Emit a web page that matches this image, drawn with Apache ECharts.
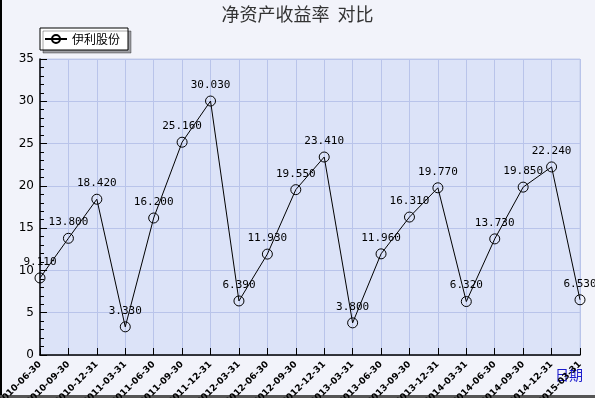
<!DOCTYPE html>
<html><head><meta charset="utf-8">
<script src="https://cdn.jsdelivr.net/npm/echarts@6/dist/echarts.min.js"></script>
<style>html,body{margin:0;padding:0;background:#f2f3fa}#c{width:595px;height:398px}</style>
</head><body><div id="c"></div>
<script>
var categories = ['2010-06-30','2010-09-30','2010-12-31','2011-03-31','2011-06-30','2011-09-30','2011-12-31','2012-03-31','2012-06-30','2012-09-30','2012-12-31','2013-03-31','2013-06-30','2013-09-30','2013-12-31','2014-03-31','2014-06-30','2014-09-30','2014-12-31','2015-03-31'];
var roe = [9.110,13.800,18.420,3.330,16.200,25.160,30.030,6.390,11.930,19.550,23.410,3.800,11.960,16.310,19.770,6.320,13.730,19.850,22.240,6.530];
var yTicks = [0,5,10,15,20,25,30,35];
var seriesName = '伊利股份';
var titleText = '净资产收益率  对比';
var axisNameText = '日期';

var chart = echarts.init(document.getElementById('c'), null, {renderer:'canvas'});
chart.setOption({
  animation:false,
  backgroundColor:'#f2f3fa',
  title:{text:titleText,left:'center',top:0,textStyle:{fontSize:18,fontWeight:'normal',color:'#333',fontFamily:'Noto Sans CJK SC'}},
  legend:{left:40,top:28,padding:[5,8,5,4],backgroundColor:'#fff',borderColor:'#000',borderWidth:1,
    shadowColor:'rgba(0,0,0,0.35)',shadowOffsetX:3,shadowOffsetY:3,shadowBlur:0,
    itemWidth:22,itemHeight:10,textStyle:{fontSize:12,color:'#000',fontFamily:'Noto Sans CJK SC'},data:[seriesName]},
  grid:{left:40,right:15,top:59,bottom:43,containLabel:false,outerBoundsMode:'none',show:true,backgroundColor:'#dce3f8',borderColor:'#c5cde8',borderWidth:1},
  xAxis:{type:'category',data:categories,boundaryGap:false,
    axisLine:{lineStyle:{color:'#000',width:1.5}},
    axisTick:{inside:true,length:7,lineStyle:{color:'#000'}},
    splitLine:{show:true,lineStyle:{color:'#b9c4ea',width:1}},
    axisLabel:{rotate:45,fontSize:9,fontWeight:'bold',color:'#000',margin:8,interval:0,fontFamily:'DejaVu Sans'}},
  yAxis:{type:'value',min:yTicks[0],max:yTicks[yTicks.length-1],interval:5,
    axisLine:{show:true,lineStyle:{color:'#000',width:1.5}},
    axisTick:{show:true,inside:true,length:7,lineStyle:{color:'#000'}},
    minorTick:{show:true,splitNumber:5,length:4,lineStyle:{color:'#000'}},
    splitLine:{show:true,lineStyle:{color:'#b9c4ea',width:1}},
    axisLabel:{fontSize:12,color:'#000',margin:6,fontFamily:'DejaVu Sans'}},
  graphic:[
    {type:'text',right:12,top:368,style:{text:axisNameText,fill:'#1a1acc',fontSize:14,fontFamily:'Noto Sans CJK SC'}},
    {type:'rect',left:0,top:0,shape:{width:2,height:398},style:{fill:'#000'}},
    {type:'rect',left:0,top:395,shape:{width:595,height:3},style:{fill:'#555'}}
  ],
  series:[{name:seriesName,type:'line',data:roe,symbol:'circle',symbolSize:10,
    lineStyle:{color:'#000',width:1},itemStyle:{color:'rgba(0,0,0,0)',borderColor:'#000',borderWidth:1},
    label:{show:true,position:'top',distance:5,fontSize:11,color:'#000',fontFamily:'DejaVu Sans Mono',
      formatter:function(p){return p.value.toFixed(3);}}}]
});
</script></body></html>
